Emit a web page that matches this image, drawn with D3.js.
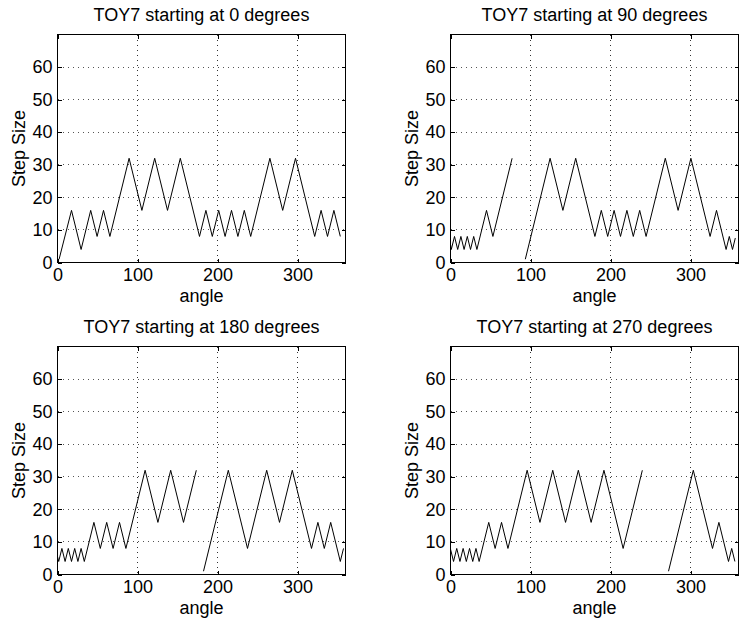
<!DOCTYPE html>
<html>
<head>
<meta charset="utf-8">
<script src="https://cdn.jsdelivr.net/npm/d3@7"></script>
<style>
  body { margin: 0; background: #fff; }
  text { font-family: "Liberation Sans", Arial, Helvetica, sans-serif; }
</style>
</head>
<body>
<div id="chart"></div>
<script>
// values (null = gap in the line)
const startAngles = [0, 90, 180, 270];

const angles0 = [2, 17.5, 29.5, 41.5, 49.5, 57.5, 65.5, 89.5, 105.5, 121.5, 137.5, 153.5, 177.5, 185.5, 193.5, 201.5, 209.5, 217.5, 225.5, 233.5, 241.5, 265.5, 281.5, 297.5, 321.5, 329.5, 337.5, 345.5, 353.5];
const steps0  = [1, 16, 4, 16, 8, 16, 8, 32, 16, 32, 16, 32, 8, 16, 8, 16, 8, 16, 8, 16, 8, 32, 16, 32, 8, 16, 8, 16, 8];

const angles90 = [0, 1, 5, 9, 13, 17, 21, 25, 29, 33, 45, 53, 77, null, 93.5, 124.5, 140.5, 156.5, 180.5, 188.5, 196.5, 204.5, 212.5, 220.5, 228.5, 236.5, 244.5, 268.5, 284.5, 300.5, 324.5, 332.5, 344.5, 348.5, 352.5, 356];
const steps90  = [5.5, 4, 8, 4, 8, 4, 8, 4, 8, 4, 16, 8, 32, null, 1, 32, 16, 32, 8, 16, 8, 16, 8, 16, 8, 16, 8, 32, 16, 32, 8, 16, 4, 8, 4, 7.5];

const angles180 = [0, 1.5, 5.5, 9.5, 13.5, 17.5, 21.5, 25.5, 29.5, 33.5, 45.5, 53.5, 61.5, 69.5, 77.5, 85.5, 109.5, 125.5, 141.5, 157.5, 173.5, null, 182.5, 213.5, 237.5, 261.5, 277.5, 293.5, 317.5, 325.5, 333.5, 341.5, 353.5, 357.5];
const steps180  = [5.5, 4, 8, 4, 8, 4, 8, 4, 8, 4, 16, 8, 16, 8, 16, 8, 32, 16, 32, 16, 32, null, 1, 32, 8, 32, 16, 32, 8, 16, 8, 16, 4, 8];

const angles270 = [0, 3.8, 7.8, 11.8, 15.8, 19.8, 23.8, 27.8, 31.8, 35.8, 47.8, 55.8, 63.8, 71.8, 95.8, 111.8, 127.8, 143.8, 159.8, 175.8, 191.8, 215.8, 239.8, null, 272.5, 303.5, 327.5, 335.5, 347.5, 351.5, 355.5];
const steps270  = [7.8, 4, 8, 4, 8, 4, 8, 4, 8, 4, 16, 8, 16, 8, 32, 16, 32, 16, 32, 16, 32, 8, 32, null, 1, 32, 8, 16, 4, 8, 4];

const xTicks = [0, 100, 200, 300];
const yTicks = [0, 10, 20, 30, 40, 50, 60];
const xGrid = [100, 200, 300];
const yGrid = [10, 20, 30, 40, 50, 60];

const series = [[angles0, steps0], [angles90, steps90], [angles180, steps180], [angles270, steps270]];

const svgWidth = 742, svgHeight = 624;
const panelW = 288, panelH = 228;
const lefts = [57.5, 450.5];
const tops = [34.5, 346.5];
const fontSize = 18;

const svg = d3.select("#chart").append("svg")
    .attr("width", svgWidth)
    .attr("height", svgHeight);

series.forEach((s, i) => {
  const g = svg.append("g")
      .attr("transform", `translate(${lefts[i % 2]},${tops[Math.floor(i / 2)]})`);

  const x = d3.scaleLinear().domain([0, 360]).range([0, panelW]);
  const y = d3.scaleLinear().domain([0, 70]).range([panelH, 0]);

  // dotted grid
  g.selectAll(".vgrid").data(xGrid).enter().append("line")
      .attr("x1", d => x(d)).attr("x2", d => x(d))
      .attr("y1", 0).attr("y2", panelH)
      .attr("stroke", "#333").attr("stroke-dasharray", "1,4")
      .attr("shape-rendering", "crispEdges");
  g.selectAll(".hgrid").data(yGrid).enter().append("line")
      .attr("x1", 0).attr("x2", panelW)
      .attr("y1", d => y(d)).attr("y2", d => y(d))
      .attr("stroke", "#555").attr("stroke-dasharray", "1,4")
      .attr("shape-rendering", "crispEdges");

  // axes with ticks pointing inward
  g.append("g").attr("transform", `translate(0,${panelH})`)
      .call(d3.axisBottom(x).tickValues(xTicks).tickSizeInner(-4).tickSizeOuter(0).tickPadding(6));
  g.append("g")
      .call(d3.axisLeft(y).tickValues(yTicks).tickSizeInner(-4).tickSizeOuter(0).tickPadding(5));
  g.append("g")
      .call(d3.axisTop(x).tickValues(xTicks).tickSizeInner(-4).tickSizeOuter(0).tickFormat(""));
  g.append("g").attr("transform", `translate(${panelW},0)`)
      .call(d3.axisRight(y).tickValues(yTicks).tickSizeInner(-4).tickSizeOuter(0).tickFormat(""));

  g.selectAll(".domain").remove();
  g.selectAll(".tick line").attr("stroke", "#000").attr("shape-rendering", "crispEdges");
  g.selectAll(".tick text")
      .attr("fill", "#000")
      .style("font-size", fontSize + "px")
      .style("font-family", '"Liberation Sans", Arial, sans-serif');

  // box
  g.append("rect")
      .attr("width", panelW).attr("height", panelH)
      .attr("fill", "none").attr("stroke", "#000")
      .attr("shape-rendering", "crispEdges");

  // step-size curve
  const pts = s[0].map((a, j) => [a, s[1][j]]);
  const line = d3.line()
      .defined(d => d[0] !== null && d[1] !== null)
      .x(d => x(d[0]))
      .y(d => y(d[1]));
  g.append("path")
      .datum(pts)
      .attr("d", line)
      .attr("fill", "none")
      .attr("stroke", "#000")
      .attr("stroke-width", 1);

  // labels
  g.append("text")
      .attr("x", panelW / 2).attr("y", -13.5)
      .attr("text-anchor", "middle")
      .style("font-size", fontSize + "px")
      .text(`TOY7 starting at ${startAngles[i]} degrees`);
  g.append("text")
      .attr("x", panelW / 2).attr("y", panelH + 39)
      .attr("text-anchor", "middle")
      .style("font-size", fontSize + "px")
      .text("angle");
  g.append("text")
      .attr("transform", `translate(-33,${panelH / 2}) rotate(-90)`)
      .attr("text-anchor", "middle")
      .style("font-size", fontSize + "px")
      .text("Step Size");
});
</script>
</body>
</html>
